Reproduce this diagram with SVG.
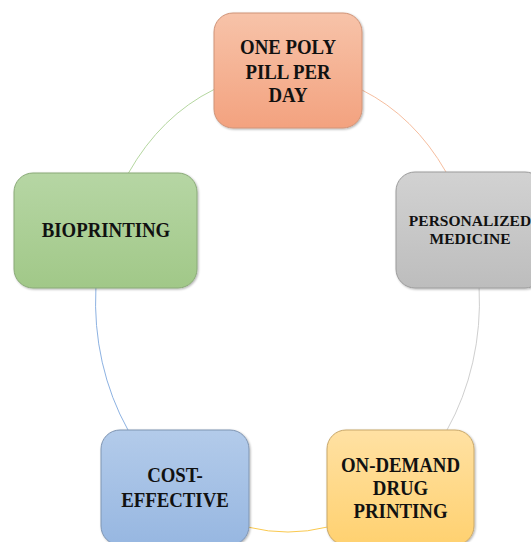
<svg xmlns="http://www.w3.org/2000/svg" width="531" height="542" viewBox="0 0 531 542">
<defs>
<linearGradient id="gOrange" x1="0" y1="0" x2="0" y2="1"><stop offset="0" stop-color="#F7C3A9"/><stop offset="1" stop-color="#F3A27F"/></linearGradient>
<linearGradient id="gGray" x1="0" y1="0" x2="0" y2="1"><stop offset="0" stop-color="#D2D2D2"/><stop offset="1" stop-color="#BDBDBD"/></linearGradient>
<linearGradient id="gGreen" x1="0" y1="0" x2="0" y2="1"><stop offset="0" stop-color="#B6D6A4"/><stop offset="1" stop-color="#A1C888"/></linearGradient>
<linearGradient id="gBlue" x1="0" y1="0" x2="0" y2="1"><stop offset="0" stop-color="#B3CBEA"/><stop offset="1" stop-color="#97B7E1"/></linearGradient>
<linearGradient id="gYellow" x1="0" y1="0" x2="0" y2="1"><stop offset="0" stop-color="#FFE1A3"/><stop offset="1" stop-color="#FFD170"/></linearGradient>
<filter id="sh" x="-10%" y="-10%" width="125%" height="125%"><feDropShadow dx="1" dy="1" stdDeviation="1" flood-color="#000" flood-opacity="0.3"/></filter>
</defs>
<style>
.box{filter:url(#sh);stroke-width:1}
.t{font-family:"Liberation Serif","Times New Roman",serif;font-weight:bold;font-size:21.5px;fill:#111;text-anchor:middle}
.ts{font-family:"Liberation Serif","Times New Roman",serif;font-weight:bold;font-size:15.5px;fill:#111;text-anchor:middle}
.arc{fill:none;stroke-width:1}
</style>
<g id="connectors">
<path class="arc" stroke="#F6BE9F" d="M362,90 A192,230 0 0 1 446,172"/>
<path class="arc" stroke="#CFCFCF" d="M479.1,288 A192,230 0 0 1 447,430"/>
<path class="arc" stroke="#FAC94F" d="M327,527.1 A192,230 0 0 1 249,527.3"/>
<path class="arc" stroke="#8DB2E2" d="M128,430 A192,230 0 0 1 95.9,288"/>
<path class="arc" stroke="#B5D7A0" d="M128.5,173 A192,230 0 0 1 214,89.5"/>
</g>
<g id="node-onepoly">
<rect class="box" x="214" y="13" width="148" height="115" rx="19" fill="url(#gOrange)" stroke="#D09478"/>
<g transform="translate(288,0) scale(0.875,1)">
<text class="t" x="0" y="54">ONE POLY</text>
<text class="t" x="0" y="79">PILL PER</text>
<text class="t" x="0" y="102">DAY</text>
</g>
</g>
<g id="node-personalized">
<rect class="box" x="396" y="172" width="148" height="116" rx="19" fill="url(#gGray)" stroke="#9C9C9C"/>
<text class="ts" x="470" y="225.5">PERSONALIZED</text>
<text class="ts" x="470" y="244">MEDICINE</text>
</g>
<g id="node-ondemand">
<rect class="box" x="327" y="430" width="147" height="115" rx="19" fill="url(#gYellow)" stroke="#C9A86A"/>
<g transform="translate(400.5,0) scale(0.875,1)">
<text class="t" x="0" y="472">ON-DEMAND</text>
<text class="t" x="0" y="495">DRUG</text>
<text class="t" x="0" y="518">PRINTING</text>
</g>
</g>
<g id="node-cost">
<rect class="box" x="101" y="430" width="148" height="115" rx="19" fill="url(#gBlue)" stroke="#7F95B2"/>
<g transform="translate(175,0) scale(0.875,1)">
<text class="t" x="0" y="482">COST-</text>
<text class="t" x="0" y="507">EFFECTIVE</text>
</g>
</g>
<g id="node-bio">
<rect class="box" x="14" y="173" width="183" height="115" rx="19" fill="url(#gGreen)" stroke="#8AAA78"/>
<g transform="translate(106,0) scale(0.875,1)">
<text class="t" x="0" y="237">BIOPRINTING</text>
</g>
</g>
</svg>
